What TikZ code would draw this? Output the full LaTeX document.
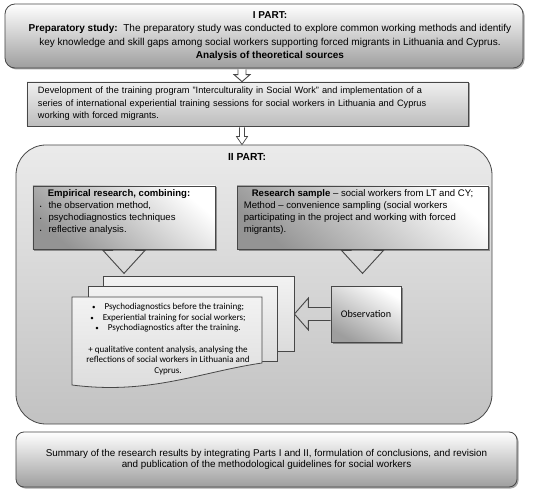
\documentclass[tikz,border=0pt]{standalone}
\usepackage{fontspec}
\setmainfont{Liberation Sans}
\newfontfamily\calfont{Carlito}
\usetikzlibrary{calc,shadows}
\begin{document}
\begin{tikzpicture}[x=1bp,y=-1bp,
  shd/.style={drop shadow={shadow xshift=1.5bp,shadow yshift=-1.5bp,opacity=0.35,fill=black}},
  edge/.style={draw=black!72,line width=0.8bp},
  topbox/.style={edge,shd,rounded corners=10bp,top color=white,bottom color=black!38,
    minimum width=518bp,minimum height=64bp,inner sep=0pt},
  devbox/.style={edge,shd,top color=black!6,bottom color=black!26,
    minimum width=441bp,minimum height=44bp,text width=419bp,align=left,inner sep=0pt,
    font=\fontsize{9.25}{12.5}\selectfont},
  partbox/.style={edge,rounded corners=30bp,top color=black!8,bottom color=black!24,
    minimum width=476bp,minimum height=279bp,inner sep=0pt},
  subbox/.style={edge,shd,top color=white,bottom color=black!42,shading angle=-40,
    minimum height=63bp,inner sep=0pt},
  subtext/.style={anchor=north west,align=left,inner sep=0pt,font=\fontsize{9.6}{12}\selectfont},
  docbox/.style={edge,top color=black!5,bottom color=black!14,minimum height=75bp,inner sep=0pt},
  obsbox/.style={edge,shd,top color=white,bottom color=black!38,shading angle=-30,
    minimum width=70bp,minimum height=56bp,inner sep=0pt,font=\calfont\fontsize{10.2}{12}\selectfont},
  botbox/.style={edge,shd,rounded corners=8bp,top color=white,bottom color=black!38,
    minimum width=501bp,minimum height=55bp,align=center,inner sep=0pt,
    font=\fontsize{9.9}{11.5}\selectfont},
  hollow/.style={draw=black!72,line width=0.9bp,line join=miter},
  lbl/.style={inner sep=0pt,align=center}
]
\useasboundingbox (0,0) rectangle (550,493);

\node[topbox] (top) at (264,36) {};
\node[lbl,font=\fontsize{10.05}{13.5}\selectfont] (toptext) at ($(top.center)+(6,0)$) {\textbf{I PART:}\\
\textbf{Preparatory study:}\ \ The preparatory study was conducted to explore common working methods and identify\\
key knowledge and skill gaps among social workers supporting forced migrants in Lithuania and Cyprus.\\
\textbf{Analysis of theoretical sources}};

\node[devbox] (dev) at (247.5,104) {Development of the training program "Interculturality in Social Work" and implementation of a\\
series of international experiential training sessions for social workers in Lithuania and Cyprus\\
working with forced migrants.};

\node[partbox] (part) at (254,284.5) {};
\node[lbl,font=\bfseries\fontsize{10.3}{12}\selectfont] (parttitle) at (247,157) {II PART:};

\coordinate (ax) at (242,0);
% arrow I -> development
\draw[hollow,fill=white] ($(ax |- top.south)+(-4,1)$) -- ($(ax |- dev.north)+(-4,-7)$) -- ($(ax |- dev.north)+(-8,-7)$) -- (ax |- dev.north)
  -- ($(ax |- dev.north)+(8,-7)$) -- ($(ax |- dev.north)+(4,-7)$) -- ($(ax |- top.south)+(4,1)$);
% arrow development -> part II
\draw[hollow,fill=white,line width=0.7bp] ($(ax |- dev.south)+(-2.5,1)$) -- ($(ax |- part.north)+(-2.5,-8)$) -- ($(ax |- part.north)+(-5.5,-8)$) -- (ax |- part.north)
  -- ($(ax |- part.north)+(5.5,-8)$) -- ($(ax |- part.north)+(2.5,-8)$) -- ($(ax |- dev.south)+(2.5,1)$);

\node[subbox,minimum width=182bp] (emp) at (124,217.5) {};
\node[subtext] (emptext) at ($(emp.north west)+(7,4)$) {\hspace*{8bp}\textbf{Empirical research, combining:}\\
{\tiny\textbullet}\hspace{7bp}the observation method,\\
{\tiny\textbullet}\hspace{7bp}psychodiagnostics techniques\\
{\tiny\textbullet}\hspace{7bp}reflective analysis.};

\node[subbox,minimum width=251bp] (res) at (362.5,217.5) {};
\node[subtext] (restext) at ($(res.north west)+(7,4)$) {\hspace*{8bp}\textbf{Research sample} -- social workers from LT and CY;\\
Method -- convenience sampling (social workers\\
participating in the project and working with forced\\
migrants).};

% chevrons
\draw[hollow] ($(emp.south)+(-11,1)$) -- ($(emp.south)+(-21,1)$) -- ($(emp.south)+(0,24)$) -- ($(emp.south)+(21,1)$) -- ($(emp.south)+(11,1)$);
\draw[hollow] ($(res.south)+(-11,1)$) -- ($(res.south)+(-21,1)$) -- ($(res.south)+(0,24)$) -- ($(res.south)+(21,1)$) -- ($(res.south)+(11,1)$);

% document stack
\node[docbox,minimum width=191bp] (back) at (198.5,313.5) {};
\node[docbox,minimum width=189bp] (mid) at (182.5,323.5) {};
\draw[edge,top color=black!5,bottom color=black!14] (72,297) -- (262,297) -- (262,363)
  .. controls (200,372) and (150,395) .. (72,385) -- cycle;
\node[lbl,font=\calfont\fontsize{9.1}{10.6}\selectfont] (front) at (168,339) {%
{\scriptsize\textbullet}\hspace{9bp}Psychodiagnostics before the training;\\
{\scriptsize\textbullet}\hspace{9bp}Experiential training for social workers;\\
{\scriptsize\textbullet}\hspace{9bp}Psychodiagnostics after the training.\\[10.6bp]
+ qualitative content analysis, analysing the\\
reflections of social workers in Lithuania and\\
Cyprus.};

\node[obsbox] (obs) at (366,314) {Observation};
\coordinate (obstip) at (back.east |- obs.west);
\draw[hollow] ($(obs.west)+(0,-6.5)$) -- ($(obstip)+(14,-6.5)$) -- ($(obstip)+(14,-16)$) -- (obstip)
  -- ($(obstip)+(14,16)$) -- ($(obstip)+(14,6.5)$) -- ($(obs.west)+(0,6.5)$);

\node[botbox] (sum) at (266.5,459.5) {Summary of the research results by integrating Parts I and II, formulation of conclusions, and revision\\
and publication of the methodological guidelines for social workers};
\end{tikzpicture}
\end{document}
